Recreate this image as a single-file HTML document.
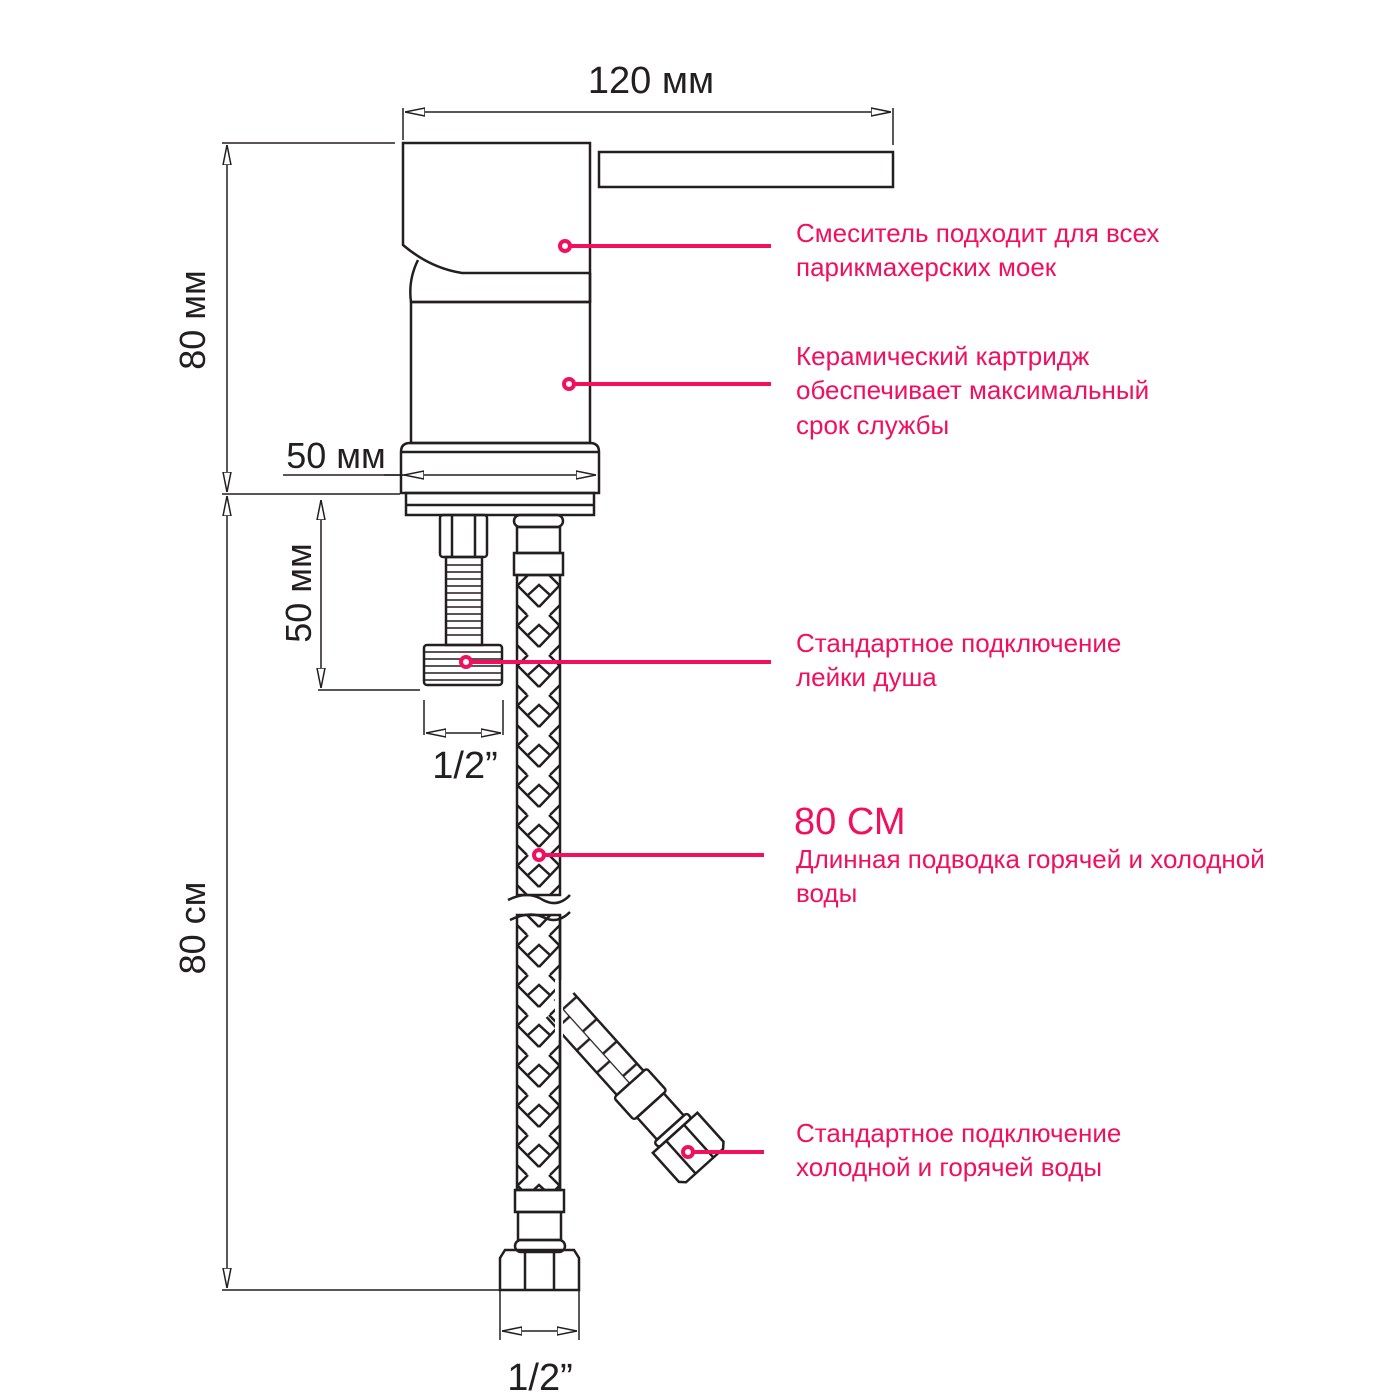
<!DOCTYPE html>
<html><head><meta charset="utf-8"><style>
html,body{margin:0;padding:0;background:#fff}
svg{display:block}
.t{font-family:"Liberation Sans",sans-serif;fill:#231f20}
.p{font-family:"Liberation Sans",sans-serif;fill:#f0105e;font-size:26px}
</style></head><body>
<svg width="1400" height="1400" viewBox="0 0 1400 1400" xmlns="http://www.w3.org/2000/svg">
<defs>
<marker id="a" viewBox="0 0 20 10" refX="20" refY="5" markerWidth="20" markerHeight="10" markerUnits="userSpaceOnUse" orient="auto-start-reverse">
<path d="M0,1 L20,5 L0,9 Z" fill="#fff" stroke="#231f20" stroke-width="1.5"/>
</marker>
<pattern id="br" width="43" height="40" patternUnits="userSpaceOnUse" x="517" y="575">
<path d="M0,10 L22,32 M22,32 L43,10 M0,30 L10,40 M33,40 L43,30 M11,0 L0,11 M32,0 L43,11 M11,20 L22,10 L33,20" stroke="#231f20" stroke-width="2.5" fill="none"/>
</pattern>
<pattern id="br2" width="30" height="40" patternUnits="userSpaceOnUse">
<path d="M0,0 L30,0 M0,20 L30,20 M15,0 L15,20 M5,20 L5,40" stroke="#231f20" stroke-width="2.5" fill="none"/>
</pattern>
</defs>
<g fill="none" stroke="#231f20" stroke-width="2.5">
<line x1="403" y1="108" x2="403" y2="140" stroke-width="1.5"/>
<line x1="893" y1="108" x2="893" y2="145" stroke-width="1.5"/>
<line x1="405" y1="112" x2="891" y2="112" stroke-width="1.5" marker-start="url(#a)" marker-end="url(#a)"/>
<path d="M403,143 H590 V273 H462 Q430,268 403,245 Z"/>
<rect x="599" y="152" width="294" height="35"/>
<path d="M418,260 Q408,280 411,302 H590 V273"/>
<line x1="590" y1="273" x2="590" y2="302"/>
<rect x="411" y="302" width="179" height="141"/>
<path d="M401,493 V452 Q401,443 410,443 H590 Q599,443 599,452 V493 Z"/>
<line x1="401" y1="452" x2="599" y2="452"/>
<line x1="384" y1="475" x2="596" y2="475" stroke-width="1.5" marker-end="url(#a)"/>
<line x1="404" y1="475" x2="420" y2="475" stroke-width="1.5" marker-start="url(#a)"/>
<line x1="283" y1="475" x2="403" y2="475" stroke-width="1.5"/>
<rect x="406" y="493" width="188" height="22"/>
<line x1="406" y1="505" x2="594" y2="505"/>
<line x1="222" y1="143" x2="395" y2="143" stroke-width="1.5"/>
<line x1="222" y1="494" x2="400" y2="494" stroke-width="1.5"/>
<line x1="227" y1="145" x2="227" y2="492" stroke-width="1.5" marker-start="url(#a)" marker-end="url(#a)"/>
<line x1="227" y1="496" x2="227" y2="1288" stroke-width="1.5" marker-start="url(#a)" marker-end="url(#a)"/>
<line x1="222" y1="1290" x2="505" y2="1290" stroke-width="1.5"/>
<line x1="321" y1="500" x2="321" y2="688" stroke-width="1.5" marker-start="url(#a)" marker-end="url(#a)"/>
<line x1="318" y1="690" x2="420" y2="690" stroke-width="1.5"/>
<rect x="440" y="515" width="47" height="42" rx="3"/>
<line x1="452" y1="515" x2="452" y2="557"/><line x1="475" y1="515" x2="475" y2="557"/>
<rect x="446" y="557" width="36" height="88"/>
<path d="M446,565 H482 M446,572 H482 M446,579 H482 M446,586 H482 M446,593 H482 M446,600 H482 M446,607 H482 M446,614 H482 M446,621 H482 M446,628 H482 M446,635 H482" stroke-width="1.5"/>
<rect x="424" y="645" width="78" height="40" rx="3"/>
<path d="M424,652 H502 M424,659 H502 M424,666 H502 M424,673 H502 M424,680 H502" stroke-width="1.5"/>
<line x1="424" y1="700" x2="424" y2="735" stroke-width="1.5"/>
<line x1="503" y1="700" x2="503" y2="735" stroke-width="1.5"/>
<line x1="426" y1="733" x2="501" y2="733" stroke-width="1.5" marker-start="url(#a)" marker-end="url(#a)"/>
<rect x="514" y="515" width="49" height="12" rx="6"/>
<rect x="517" y="527" width="43" height="26"/>
<rect x="514" y="553" width="49" height="22"/>
<rect x="517" y="575" width="43" height="320" fill="url(#br)"/>
<rect x="517" y="915" width="43" height="275" fill="url(#br)"/>
<rect x="505" y="897" width="70" height="16" fill="#fff" stroke="none"/>
<path d="M508,900 Q528,890 543,900 Q558,908 570,895"/>
<path d="M510,920 Q530,910 545,918 Q558,924 570,912"/>
<rect x="515" y="1190" width="49" height="22"/>
<rect x="518" y="1212" width="43" height="28"/>
<rect x="515" y="1240" width="50" height="12" rx="6"/>
<path d="M500,1290 V1258 L505,1250 H574 L579,1258 V1290 Z"/>
<line x1="525" y1="1250" x2="525" y2="1290"/><line x1="554" y1="1250" x2="554" y2="1290"/>
<line x1="500" y1="1290" x2="500" y2="1340" stroke-width="1.5"/>
<line x1="579" y1="1290" x2="579" y2="1340" stroke-width="1.5"/>
<line x1="502" y1="1331" x2="577" y2="1331" stroke-width="1.5" marker-start="url(#a)" marker-end="url(#a)"/>
<g transform="translate(560,1005) rotate(48)">
<rect x="-8" y="-18" width="113" height="36" fill="url(#br2)" stroke="none"/>
<path d="M0,-18 H105 M0,18 H105"/>
<rect x="105" y="-22" width="30" height="44" rx="3"/>
<rect x="135" y="-18" width="30" height="36"/>
<rect x="165" y="-22" width="7" height="44" rx="3"/>
<path d="M172,-30 H211 L216,-25 V25 L211,30 H172 Z"/>
<line x1="172" y1="-12" x2="216" y2="-12"/><line x1="172" y1="12" x2="216" y2="12"/>
</g>
</g>
<rect x="555" y="980" width="8" height="60" fill="#fff"/>
<line x1="560" y1="915" x2="560" y2="1190" stroke="#231f20" stroke-width="2.5"/>
<text class="t" x="651" y="93" font-size="38" text-anchor="middle">120 мм</text>
<text class="t" x="336" y="468" font-size="36" text-anchor="middle">50 мм</text>
<text class="t" x="465" y="778" font-size="38" text-anchor="middle">1/2”</text>
<text class="t" x="540" y="1390" font-size="38" text-anchor="middle">1/2”</text>
<text class="t" font-size="36" text-anchor="middle" transform="translate(205,320) rotate(-90)">80 мм</text>
<text class="t" font-size="36" text-anchor="middle" transform="translate(205,928) rotate(-90)">80 см</text>
<text class="t" font-size="36" text-anchor="middle" transform="translate(311,593) rotate(-90)">50 мм</text>
<g stroke="#f0105e" stroke-width="4" fill="#fff">
<line x1="565" y1="246" x2="771" y2="246"/><circle cx="565" cy="246" r="5"/>
<line x1="569" y1="384" x2="771" y2="384"/><circle cx="569" cy="384" r="5"/>
<line x1="466" y1="662" x2="771" y2="662"/><circle cx="466" cy="662" r="5"/>
<line x1="539" y1="855" x2="764" y2="855"/><circle cx="539" cy="855" r="5"/>
<line x1="688" y1="1152" x2="764" y2="1152"/><circle cx="688" cy="1152" r="5"/>
</g>
<text class="p" x="796" y="242">Смеситель подходит для всех</text>
<text class="p" x="796" y="276">парикмахерских моек</text>
<text class="p" x="796" y="365">Керамический картридж</text>
<text class="p" x="796" y="399">обеспечивает максимальный</text>
<text class="p" x="796" y="434">срок службы</text>
<text class="p" x="796" y="652">Стандартное подключение</text>
<text class="p" x="796" y="686">лейки душа</text>
<text class="p" x="794" y="834" style="font-size:38px">80 СМ</text>
<text class="p" x="796" y="868">Длинная подводка горячей и холодной</text>
<text class="p" x="796" y="902">воды</text>
<text class="p" x="796" y="1142">Стандартное подключение</text>
<text class="p" x="796" y="1176">холодной и горячей воды</text>
</svg>
</body></html>
